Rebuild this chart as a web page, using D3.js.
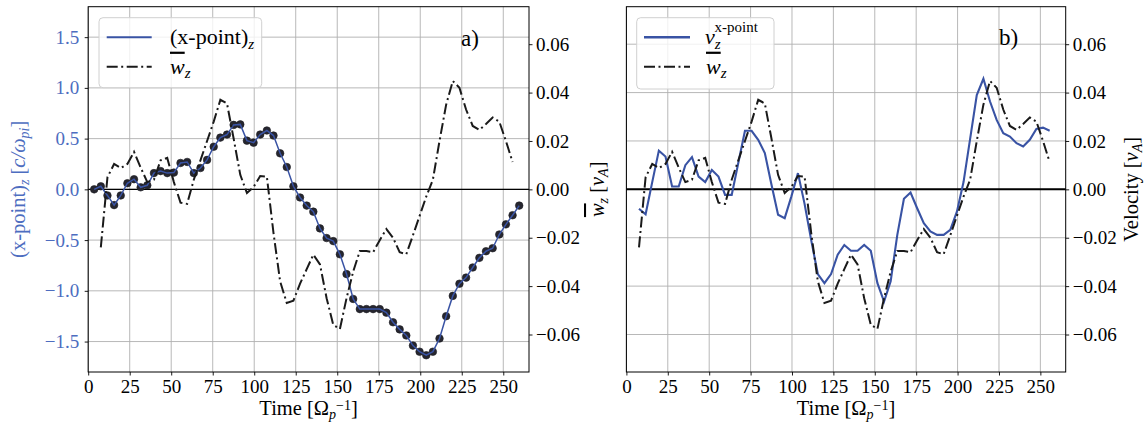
<!DOCTYPE html>
<html>
<head>
<meta charset="utf-8">
<script src="https://cdn.jsdelivr.net/npm/d3@7"></script>
<style>
  body { margin: 0; background: #fff; }
  svg text { font-family: "Liberation Serif", "DejaVu Serif", serif; }
</style>
</head>
<body>
<svg id="chart" width="1148" height="427"></svg>
<script>
// times of the x-point samples [1/Omega_p]
var tPoint = [3.6, 7.6, 11.6, 15.6, 19.6, 23.6, 27.6, 31.6, 35.6, 39.6, 43.6, 47.6, 51.6, 55.6, 59.6, 63.6,
  67.6, 71.6, 75.6, 79.6, 83.6, 87.6, 91.6, 95.6, 99.6, 103.6, 107.6, 111.6, 115.6, 119.6, 123.6, 127.6,
  131.6, 135.6, 139.6, 143.6, 147.6, 151.6, 155.6, 159.6, 163.6, 167.6, 171.6, 175.6, 179.6, 183.6, 187.6,
  191.6, 195.6, 199.6, 203.6, 207.6, 211.6, 215.6, 219.6, 223.6, 227.6, 231.6, 235.6, 239.6, 243.6, 247.6,
  251.6, 255.6, 259.6];
// (x-point)_z [c/omega_pi]
var xPointZ = [0.00, 0.03, -0.06, -0.155, -0.06, 0.06, 0.10, 0.02, 0.04, 0.16, 0.18, 0.16, 0.165, 0.26, 0.27, 0.16,
  0.21, 0.29, 0.42, 0.51, 0.54, 0.635, 0.64, 0.48, 0.46, 0.54, 0.58, 0.53, 0.355, 0.22, 0.03, -0.08,
  -0.16, -0.22, -0.385, -0.48, -0.51, -0.64, -0.835, -1.08, -1.18, -1.18, -1.18, -1.18, -1.215, -1.31, -1.38,
  -1.44, -1.54, -1.60, -1.635, -1.60, -1.47, -1.25, -1.05, -0.93, -0.87, -0.77, -0.675, -0.61, -0.58, -0.445,
  -0.345, -0.255, -0.16];
// times of the velocity samples
var tVel = [7.6, 11.6, 15.6, 19.6, 23.6, 27.6, 31.6, 35.6, 39.6, 43.6, 47.6, 51.6, 55.6, 59.6, 63.6,
  67.6, 71.6, 75.6, 79.6, 83.6, 87.6, 91.6, 95.6, 99.6, 103.6, 107.6, 111.6, 115.6, 119.6, 123.6, 127.6,
  131.6, 135.6, 139.6, 143.6, 147.6, 151.6, 155.6, 159.6, 163.6, 167.6, 171.6, 175.6, 179.6, 183.6, 187.6,
  191.6, 195.6, 199.6, 203.6, 207.6, 211.6, 215.6, 219.6, 223.6, 227.6, 231.6, 235.6, 239.6, 243.6, 247.6,
  251.6, 255.6];
// mean w_z [v_A]
var wMean = [-0.024, 0.005, 0.0105, 0.0088, 0.0105, 0.0155, 0.009, 0.003, 0.004, 0.012, 0.013, 0.003, -0.0055, -0.006, 0.004,
  0.012, 0.020, 0.028, 0.037, 0.0355, 0.021, 0.006, -0.0015, 0.001, 0.0055, 0.0053, -0.018, -0.038, -0.047, -0.046, -0.039,
  -0.033, -0.027, -0.031, -0.045, -0.056, -0.0577, -0.045, -0.034, -0.0255, -0.0255, -0.026, -0.021, -0.0164, -0.020, -0.026,
  -0.0268, -0.019, -0.011, -0.003, 0.004, 0.020, 0.035, 0.0448, 0.042, 0.033, 0.0262, 0.0246, 0.027, 0.0297, 0.028,
  0.020, 0.0113];
// v_z of the x-point [v_A]
var vzPoint = [-0.008, -0.0103, 0.003, 0.016, 0.0136, 0.0012, 0.0012, 0.010, 0.0133, 0.0053, 0.003, 0.008, 0.0053, -0.0023, -0.0023,
  0.011, 0.0242, 0.0242, 0.0205, 0.015, 0.002, -0.0105, -0.0119, -0.003, 0.0067, -0.006, -0.021, -0.035, -0.0388, -0.035, -0.027,
  -0.023, -0.0254, -0.0254, -0.023, -0.0254, -0.0388, -0.0464, -0.038, -0.0188, -0.0039, -0.0013, -0.0078, -0.014, -0.0174, -0.0188,
  -0.0188, -0.0167, -0.0092, 0.003, 0.021, 0.039, 0.0457, 0.0363, 0.0287, 0.0232, 0.0218, 0.0191, 0.0177, 0.0205, 0.025,
  0.0255, 0.0242];

var xTicks = [0, 25, 50, 75, 100, 125, 150, 175, 200, 225, 250];
var posTicks = [-1.5, -1.0, -0.5, 0.0, 0.5, 1.0, 1.5];
var velTicks = [-0.06, -0.04, -0.02, 0.00, 0.02, 0.04, 0.06];

var blue = "#3953a4";
var blueText = "#4d6dc0";
var gridCol = "#b0b0b0";
var dashDot = "11,3.5,2,3.5";
var svg = d3.select("#chart");
var plotTop = 6.7, plotBottom = 372;

function fmtMinus(s) { return s.replace("-", "\u2212"); }

// ---------- panel a ----------
var xA = d3.scaleLinear().domain([0, 265.5]).range([88.2, 529]);
var yA = d3.scaleLinear().domain([-1.8, 1.8]).range([plotBottom, plotTop]);
var wA = d3.scaleLinear().domain([-0.0755, 0.0755]).range([plotBottom, plotTop]);
// ---------- panel b ----------
var xB = d3.scaleLinear().domain([0, 265.3]).range([626.4, 1065.7]);
var wB = d3.scaleLinear().domain([-0.0755, 0.0755]).range([plotBottom, plotTop]);

svg.append("clipPath").attr("id", "clipA").append("rect")
  .attr("x", 88.2).attr("y", plotTop).attr("width", 529 - 88.2).attr("height", plotBottom - plotTop);
svg.append("clipPath").attr("id", "clipB").append("rect")
  .attr("x", 626.4).attr("y", plotTop).attr("width", 1065.7 - 626.4).attr("height", plotBottom - plotTop);

function grid(g, x, y, yt, xr) {
  g.selectAll(".vg").data(xTicks).enter().append("line")
    .attr("x1", d => x(d)).attr("x2", d => x(d)).attr("y1", plotTop).attr("y2", plotBottom)
    .attr("stroke", gridCol).attr("stroke-width", 0.9);
  g.selectAll(".hg").data(yt).enter().append("line")
    .attr("x1", xr[0]).attr("x2", xr[1]).attr("y1", d => y(d)).attr("y2", d => y(d))
    .attr("stroke", gridCol).attr("stroke-width", 0.9);
}

function styleAxis(g, size, color) {
  g.select(".domain").remove();
  g.selectAll(".tick line").attr("stroke", "#000").attr("stroke-width", 0.9);
  g.selectAll(".tick text").attr("font-size", size).attr("fill", color)
    .attr("font-family", "Liberation Serif");
}

// panel a grid + zero line
var gA = svg.append("g");
grid(gA, xA, yA, posTicks, [88.2, 529]);
gA.append("line").attr("x1", 88.2).attr("x2", 529).attr("y1", yA(0)).attr("y2", yA(0))
  .attr("stroke", "#000").attr("stroke-width", 1.1);

// panel b grid + zero line
var gB = svg.append("g");
grid(gB, xB, wB, velTicks, [626.4, 1065.7]);
gB.append("line").attr("x1", 626.4).attr("x2", 1065.7).attr("y1", wB(0)).attr("y2", wB(0))
  .attr("stroke", "#000").attr("stroke-width", 2);

// panel a data
var lineA = d3.line().x(d => xA(d[0])).y(d => yA(d[1]));
var lineWA = d3.line().x(d => xA(d[0])).y(d => wA(d[1]));
var ptsA = tPoint.map((t, i) => [t, xPointZ[i]]);
var wPts = tVel.map((t, i) => [t, wMean[i]]);
var dA = svg.append("g").attr("clip-path", "url(#clipA)");
dA.selectAll("circle").data(ptsA).enter().append("circle")
  .attr("cx", d => xA(d[0])).attr("cy", d => yA(d[1])).attr("r", 3.8)
  .attr("fill", "#26262f").attr("stroke", "#1c1c22").attr("stroke-width", 0.6);
dA.append("path").datum(ptsA).attr("d", lineA).attr("fill", "none")
  .attr("stroke", blue).attr("stroke-width", 1.5);
dA.append("path").datum(wPts).attr("d", lineWA).attr("fill", "none")
  .attr("stroke", "#1a1a1a").attr("stroke-width", 2).attr("stroke-dasharray", dashDot);

// panel b data
var lineWB = d3.line().x(d => xB(d[0])).y(d => wB(d[1]));
var vPts = tVel.map((t, i) => [t, vzPoint[i]]);
var dB = svg.append("g").attr("clip-path", "url(#clipB)");
dB.append("path").datum(vPts).attr("d", lineWB).attr("fill", "none")
  .attr("stroke", blue).attr("stroke-width", 2.1);
dB.append("path").datum(wPts).attr("d", lineWB).attr("fill", "none")
  .attr("stroke", "#1a1a1a").attr("stroke-width", 2).attr("stroke-dasharray", dashDot);

// axes
var fs = 19;
var axA = svg.append("g").attr("transform", "translate(0," + plotBottom + ")")
  .call(d3.axisBottom(xA).tickValues(xTicks).tickSize(3.5).tickPadding(4).tickFormat(d3.format("d")));
styleAxis(axA, fs, "#000");
var axB = svg.append("g").attr("transform", "translate(0," + plotBottom + ")")
  .call(d3.axisBottom(xB).tickValues(xTicks).tickSize(3.5).tickPadding(4).tickFormat(d3.format("d")));
styleAxis(axB, fs, "#000");
var ayA = svg.append("g").attr("transform", "translate(88.2,0)")
  .call(d3.axisLeft(yA).tickValues(posTicks).tickSize(3.5).tickPadding(5.5).tickFormat(d => fmtMinus(d3.format(".1f")(d))));
styleAxis(ayA, fs, blueText);
var awA = svg.append("g").attr("transform", "translate(529,0)")
  .call(d3.axisRight(wA).tickValues(velTicks).tickSize(3.5).tickPadding(3.5).tickFormat(d => fmtMinus(d3.format(".2f")(d))));
styleAxis(awA, fs, "#000");
var awB = svg.append("g").attr("transform", "translate(1065.7,0)")
  .call(d3.axisRight(wB).tickValues(velTicks).tickSize(3.5).tickPadding(3.5).tickFormat(d => fmtMinus(d3.format(".2f")(d))));
styleAxis(awB, fs, "#000");

// frames
[[88.2, 529], [626.4, 1065.7]].forEach(function (r) {
  svg.append("rect").attr("x", r[0]).attr("y", plotTop).attr("width", r[1] - r[0]).attr("height", plotBottom - plotTop)
    .attr("fill", "none").attr("stroke", "#000").attr("stroke-width", 1);
});

// axis labels
var lfs = 20.5, sfs = 14;
function timeLabel(cx) {
  var t = svg.append("text").attr("x", cx).attr("y", 415).attr("text-anchor", "middle").attr("font-size", lfs);
  t.append("tspan").text("Time [\u03A9");
  t.append("tspan").attr("font-style", "italic").attr("font-size", sfs).attr("dy", 4).text("p");
  t.append("tspan").attr("font-size", sfs).attr("dy", -9.5).text("\u22121");
  t.append("tspan").attr("dy", 5.5).text("]");
}
timeLabel(308.6);
timeLabel(846);

var yl = svg.append("text").attr("transform", "translate(25,189.3) rotate(-90)")
  .attr("text-anchor", "middle").attr("font-size", lfs).attr("fill", blueText);
yl.append("tspan").text("(x-point)");
yl.append("tspan").attr("font-style", "italic").attr("font-size", sfs).attr("dy", 4).text("z");
yl.append("tspan").attr("dy", -4).text(" [");
yl.append("tspan").attr("font-style", "italic").text("c/\u03C9");
yl.append("tspan").attr("font-style", "italic").attr("font-size", sfs).attr("dy", 4).text("pi");
yl.append("tspan").attr("dy", -4).text("]");

function wLabel(cx, prefix) {
  var t = svg.append("text").attr("transform", "translate(" + cx + ",189.3) rotate(-90)")
    .attr("text-anchor", "middle").attr("font-size", lfs);
  if (prefix) {
    t.append("tspan").text(prefix + "  [");
  } else {
    t.append("tspan").attr("font-style", "italic").style("text-decoration", "overline").text("w");
    t.append("tspan").attr("font-style", "italic").attr("font-size", sfs).attr("dy", 4).text("z");
    t.append("tspan").attr("dy", -4).text("  [");
  }
  t.append("tspan").attr("font-style", "italic").text("v");
  t.append("tspan").attr("font-style", "italic").attr("font-size", sfs).attr("dy", 4).text("A");
  t.append("tspan").attr("dy", -4).text("]");
}
wLabel(604, null);
wLabel(1138, "Velocity");

// panel letters
svg.append("text").attr("x", 461).attr("y", 46).attr("font-size", 23).text("a)");
svg.append("text").attr("x", 999).attr("y", 45).attr("font-size", 23).text("b)");

// legends
function legendBox(x, y, w, h) {
  svg.append("rect").attr("x", x).attr("y", y).attr("width", w).attr("height", h).attr("rx", 4)
    .attr("fill", "#fff").attr("fill-opacity", 0.8).attr("stroke", "#d0d0d0").attr("stroke-width", 1);
}
function legendW(x0, x1, tx, y) {
  svg.append("line").attr("x1", x0).attr("x2", x1).attr("y1", y).attr("y2", y)
    .attr("stroke", "#1a1a1a").attr("stroke-width", 2).attr("stroke-dasharray", dashDot);
  var t = svg.append("text").attr("x", tx).attr("y", y + 7).attr("font-size", 22);
  t.append("tspan").attr("font-style", "italic").style("text-decoration", "overline").text("w");
  t.append("tspan").attr("font-style", "italic").attr("font-size", 15).attr("dy", 4).text("z");
}

legendBox(99, 17.7, 162.7, 70);
svg.append("line").attr("x1", 106.7).attr("x2", 151.7).attr("y1", 37.3).attr("y2", 37.3)
  .attr("stroke", blue).attr("stroke-width", 2);
var la = svg.append("text").attr("x", 170).attr("y", 44).attr("font-size", 22);
la.append("tspan").text("(x-point)");
la.append("tspan").attr("font-style", "italic").attr("font-size", 15).attr("dy", 5).text("z");
legendW(106.7, 151.7, 170, 66.7);

legendBox(636.7, 17.7, 137.3, 71.3);
svg.append("line").attr("x1", 644).attr("x2", 690).attr("y1", 37.3).attr("y2", 37.3)
  .attr("stroke", blue).attr("stroke-width", 2.5);
var lb = svg.append("text").attr("x", 705).attr("y", 44).attr("font-size", 22);
lb.append("tspan").attr("font-style", "italic").text("v");
lb.append("tspan").attr("font-style", "italic").attr("font-size", 15).attr("dy", 5).text("z");
lb.append("tspan").attr("font-size", 15).attr("dy", -17).attr("dx", -6).text("x-point");
legendW(644, 690, 706, 66.7);
</script>
</body>
</html>
